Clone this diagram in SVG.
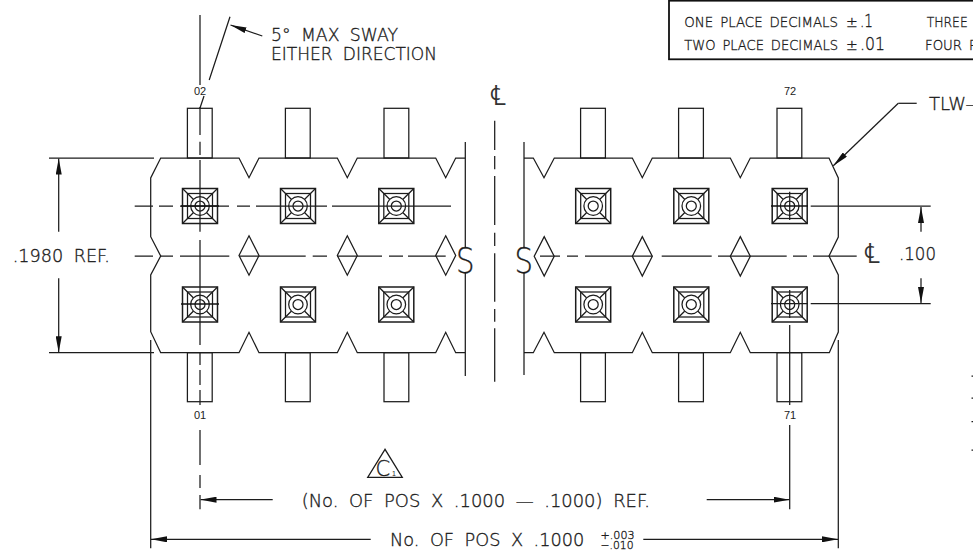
<svg xmlns="http://www.w3.org/2000/svg" width="973" height="556" viewBox="0 0 973 556">
<style>
.l{fill:none;stroke:#1c1c1c;stroke-width:1.25;stroke-linecap:butt;stroke-linejoin:miter}
.h{fill:none;stroke:#111;stroke-width:1.6}
.t{font-family:"DejaVu Sans","Liberation Sans",sans-serif;fill:#1c1c1c;stroke:#1c1c1c;stroke-width:.35;font-size:18px;font-weight:200;word-spacing:5px}
.s{font-size:14.5px;word-spacing:3px}
.n{font-family:"Liberation Sans",Arial,sans-serif;font-weight:400;font-size:11px;fill:#222}
.b{font-size:35px}
.c{font-size:28px;stroke:none;fill:#333}
.a{fill:#111;stroke:none}
</style>
<defs>
<marker id="arr" viewBox="0 0 16 6" refX="16" refY="3" markerWidth="16" markerHeight="6" markerUnits="userSpaceOnUse" orient="auto"><path class="a" d="M0,0 L16,3 L0,6z"/></marker>
<g id="pad">
<rect class="l" x="-17.5" y="-17.5" width="35" height="35" style="stroke-width:1.5"/>
<rect class="l" x="-12.5" y="-12.5" width="25" height="25"/>
<path class="l" d="M-17.5,-17.5 L-6.7,-6.7 M17.5,-17.5 L6.7,-6.7 M-17.5,17.5 L-6.7,6.7 M17.5,17.5 L6.7,6.7"/>
<circle class="l" r="9.3"/><circle class="l" r="5"/>
</g>
<g id="pin-t"><rect class="l" x="-12.4" y="0" width="24.8" height="49.7"/></g>
<g id="pin-b"><rect class="l" x="-12.4" y="0" width="24.8" height="49"/></g>
<path id="dia" class="l" d="M0,-19.7 L10,0 L0,19.7 L-10,0z"/>
</defs>

<g id="table">
<rect class="h" x="669" y="0.7" width="320" height="58.6" style="stroke-width:1.8"/>
<text class="t s" x="684.3" y="26.7" textLength="153.7" lengthAdjust="spacingAndGlyphs">ONE PLACE DECIMALS</text>
<text class="t s" x="846" y="26.7" style="font-size:14px">±</text>
<text class="t" x="860" y="26.7" textLength="13" lengthAdjust="spacingAndGlyphs">.1</text>
<text class="t s" x="926.7" y="26.7" textLength="41" lengthAdjust="spacingAndGlyphs">THREE</text>
<text class="t s" x="684.3" y="50" textLength="153.7" lengthAdjust="spacingAndGlyphs">TWO PLACE DECIMALS</text>
<text class="t s" x="846" y="50" style="font-size:14px">±</text>
<text class="t" x="860" y="50" textLength="25" lengthAdjust="spacingAndGlyphs">.01</text>
<text class="t s" x="925" y="50" textLength="52" lengthAdjust="spacingAndGlyphs">FOUR P</text>
</g>

<g id="body-left"><path class="l" d="M465,158 H455.7 L445.7,177.7 L435.7,158 H357.3 L347.3,177.7 L337.3,158 H259 L249,177.7 L239,158 H160.7 L150.7,178 V236.7 L160.7,256 L150.7,275 V331.7 L160.7,352.7 H239 L249,332.3 L259,352.7 H337.3 L347.3,332.3 L357.3,352.7 H435.7 L445.7,332.3 L455.7,352.7 H465"/>
<path class="l" d="M465.3,142 V247 M465.3,272.7 V376"/>
<text class="t b" x="456" y="272.5" textLength="18.5" lengthAdjust="spacingAndGlyphs">S</text>
</g>
<g id="body-right"><path class="l" d="M524,158 H533.3 L544,177.7 L554.3,158 H632.3 L642.3,177.7 L652.3,158 H730.3 L740.3,177.7 L750.3,158 H829 L838.3,178 V237 L829,256 L838.3,275 V332 L829.3,352.7 H750.3 L740.3,332.3 L730.3,352.7 H652.3 L642.3,332.3 L632.3,352.7 H554.3 L544,332.3 L533.3,352.7 H524"/>
<path class="l" d="M524,142 V247 M524,272.7 V375"/>
<text class="t b" x="514.5" y="272.5" textLength="18.5" lengthAdjust="spacingAndGlyphs">S</text>
</g>

<g id="pin-02"><use href="#pin-t" x="199.8" y="108.3"/><use href="#pad" x="200" y="206"/><text class="n" x="194" y="94.5">02</text></g>
<g id="pin-04"><use href="#pin-t" x="297.8" y="108.3"/><use href="#pad" x="298" y="206"/></g>
<g id="pin-06"><use href="#pin-t" x="396.4" y="108.3"/><use href="#pad" x="396.3" y="206"/></g>
<g id="pin-68"><use href="#pin-t" x="593" y="108.3"/><use href="#pad" x="593.2" y="206"/></g>
<g id="pin-70"><use href="#pin-t" x="691" y="108.3"/><use href="#pad" x="691.3" y="206"/></g>
<g id="pin-72"><use href="#pin-t" x="789.4" y="108.3"/><use href="#pad" x="789.7" y="206"/><text class="n" x="784" y="94.5">72</text></g>
<g id="pin-01"><use href="#pin-b" x="199.8" y="352.7"/><use href="#pad" x="200" y="304.5"/><text class="n" x="194" y="419">01</text></g>
<g id="pin-03"><use href="#pin-b" x="297.8" y="352.7"/><use href="#pad" x="298" y="304.5"/></g>
<g id="pin-05"><use href="#pin-b" x="396.4" y="352.7"/><use href="#pad" x="396.3" y="304.5"/></g>
<g id="pin-67"><use href="#pin-b" x="593" y="352.7"/><use href="#pad" x="593.2" y="304.5"/></g>
<g id="pin-69"><use href="#pin-b" x="691" y="352.7"/><use href="#pad" x="691.3" y="304.5"/></g>
<g id="pin-71"><use href="#pin-b" x="789.4" y="352.7"/><use href="#pad" x="789.7" y="304.5"/><text class="n" x="784" y="419">71</text></g>

<g id="diamonds">
<use href="#dia" x="249" y="255.5"/><use href="#dia" x="347.3" y="255.5"/><use href="#dia" x="445.7" y="255.5"/>
<use href="#dia" x="544.2" y="256.3"/><use href="#dia" x="642.3" y="256.3"/><use href="#dia" x="740.3" y="256.3"/>
</g>

<g id="connectors">
<path class="l" d="M134.7,206 H153 M159,206 H173 M180,206 H229 M237,206 H250 M256,206 H327 M332,206 H451"/>
<path class="l" d="M134.7,256 H153 M160.7,256 H173 M180,256 H229.3 M239,256 H259 M259,256 H305.7 M312.7,256 H327 M337.3,256 H357.3 H382 M389,256 H403 M408,256 H445.7"/>
<path class="l" d="M540,256 H560 M567,256 H578 M585,256 H652.3 M661.7,256 H711.7 M718,256 H750.3 H786.7 M793,256 H807 M813,256 H856.7"/>
<path class="l" d="M200,15 V85 M200,107 V135 M200,141.7 V155 M200,160 V231.7 M200,240 V345 M200,352 V365 M200,370 V385 M200,390 V405 M200,430 V465 M200,475 V488 M200,495 V509.3"/>
<path class="h" d="M181,206 H219 M181,304 H219" style="stroke-width:1.3"/>
<path class="l" d="M789.7,191.7 V220 M789.7,290 V318 M789.7,325 V405 M789.7,425 V509.3"/>
<path class="h" d="M771,206 H808" style="stroke-width:1.6"/>
<path class="l" d="M771,303.7 H808"/>
<path class="l" d="M494.7,120.7 V150 M494.7,156 V169.3 M494.7,176 V225 M494.7,232.7 V246 M494.7,253.3 V301.7 M494.7,309 V321.7 M494.7,328.3 V381.7"/>
<path class="l" d="M230,16.7 L209.2,80 M204,96 L200,108"/>
<line class="l" x1="262.3" y1="36" x2="230.5" y2="25" marker-end="url(#arr)"/>
<path class="l" d="M49,158 H154 M49,352.7 H154"/>
<line class="l" x1="58.7" y1="231.7" x2="58.7" y2="158.5" marker-end="url(#arr)"/>
<line class="l" x1="58.7" y1="278.3" x2="58.7" y2="352.3" marker-end="url(#arr)"/>
<path class="l" d="M810.7,206 H930.7 M810.7,303.7 H930.7"/>
<line class="l" x1="921" y1="231.7" x2="921" y2="207" marker-end="url(#arr)"/>
<line class="l" x1="921" y1="278.3" x2="921" y2="303" marker-end="url(#arr)"/>
<path class="l" d="M916.7,103.3 H898.3"/>
<line class="l" x1="898.3" y1="103.3" x2="833.3" y2="165.7" marker-end="url(#arr)"/>
<path class="l" d="M150.7,340 V548.3 M838.3,340 V548.3"/>
<line class="l" x1="272.7" y1="499.7" x2="200.5" y2="499.7" marker-end="url(#arr)"/>
<line class="l" x1="706.7" y1="499.7" x2="789.5" y2="499.7" marker-end="url(#arr)"/>
<line class="l" x1="370.7" y1="539.3" x2="151" y2="539.3" marker-end="url(#arr)"/>
<line class="l" x1="643.3" y1="539.3" x2="838" y2="539.3" marker-end="url(#arr)"/>
<path class="l" d="M971.5,376 H973 M971.5,398 H973 M971.5,421.7 H973 M971.5,450 H973"/>
</g>

<g id="labels">
<text class="t" x="271" y="41" textLength="127" lengthAdjust="spacingAndGlyphs">5° MAX SWAY</text>
<text class="t" x="271" y="60" textLength="166" lengthAdjust="spacingAndGlyphs">EITHER DIRECTION</text>
<text class="t" x="12.7" y="261.7" textLength="97.3" lengthAdjust="spacingAndGlyphs">.1980 REF.</text>
<text class="t" x="899" y="260" textLength="37" lengthAdjust="spacingAndGlyphs">.100</text>
<text class="t" x="929" y="110">TLW—</text>
<text class="t c" x="490" y="105" textLength="16" lengthAdjust="spacingAndGlyphs">℄</text>
<text class="t c" x="864" y="263" textLength="16" lengthAdjust="spacingAndGlyphs">℄</text>
<path class="l" d="M385,449.3 L367.7,477.3 H402.3z"/>
<text class="t" x="375.5" y="475.5" style="font-size:21px">C</text><text class="n" x="392" y="475.5" style="font-size:7px">1</text>
<text class="t" x="301.7" y="506.7" textLength="348.3" lengthAdjust="spacingAndGlyphs">(No. OF POS X .1000 — .1000) REF.</text>
<text class="t" x="390" y="546" textLength="194.3" lengthAdjust="spacingAndGlyphs">No. OF POS X .1000</text>
<text class="t" x="600.5" y="538.5" style="font-size:11px" textLength="34" lengthAdjust="spacingAndGlyphs">+.003</text>
<text class="t" x="600.5" y="548.5" style="font-size:11px" textLength="33" lengthAdjust="spacingAndGlyphs">−.010</text>
</g>
</svg>
